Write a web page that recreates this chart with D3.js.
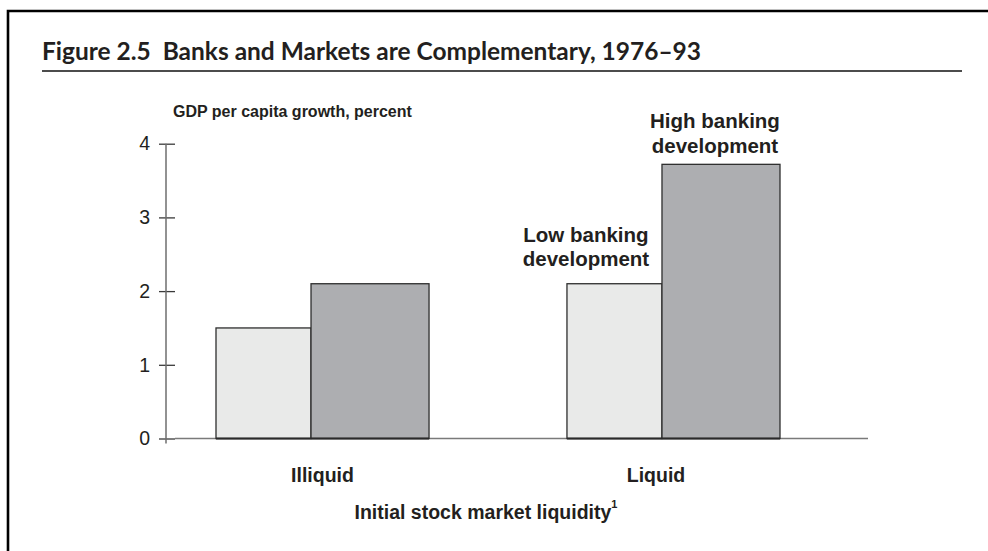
<!DOCTYPE html>
<html><head><meta charset="utf-8">
<script src="https://cdn.jsdelivr.net/npm/d3@7"></script>
<style>body{margin:0;background:#fff}</style>
</head><body>
<svg id="chart" width="988" height="551"></svg>
<script>
// ---- data ----
const categories = ["Illiquid", "Liquid"];
const seriesNames = ["Low banking development", "High banking development"];
const lowBanking = [1.5, 2.1];
const highBanking = [2.1, 3.72];
const yTicks = [0, 1, 2, 3, 4];
const titleText = "Figure 2.5  Banks and Markets are Complementary, 1976\u201393";
const yAxisTitle = "GDP per capita growth, percent";
const xAxisTitle = "Initial stock market liquidity";
const xAxisNote = "1";
const lowLabel = ["Low banking", "development"];
const highLabel = ["High banking", "development"];

// ---- layout ----
const svg = d3.select("#chart");
const ink = "#231f20";
const arial = "'Liberation Sans', Arial, Helvetica, sans-serif";

// frame
svg.append("path")
  .attr("d", "M8,551 V11 H988")
  .attr("fill", "none").attr("stroke", "#000").attr("stroke-width", 2.6);

// title
svg.append("text")
  .attr("x", 42).attr("y", 60)
  .attr("textLength", 659).attr("lengthAdjust", "spacingAndGlyphs")
  .style("white-space", "pre")
  .style("font-family", "Lato, 'Open Sans', sans-serif")
  .style("font-weight", 700).style("font-size", "24.5px")
  .attr("fill", ink)
  .text(titleText);
svg.append("line")
  .attr("x1", 42).attr("x2", 962).attr("y1", 71).attr("y2", 71)
  .attr("stroke", "#111").attr("stroke-width", 1.5);

// scales
const y = d3.scaleLinear().domain([0, 4]).range([438.5, 143.7]);
const x0 = d3.scaleBand().domain(categories).range([216, 780])
  .paddingInner(0.393).paddingOuter(0);
const lowFrac = 0.446;
const labelX = d3.scalePoint().domain(categories).range([322.5, 656]);

// y axis
const axisX = 166;
const yAxis = d3.axisLeft(y).tickValues(yTicks).tickFormat(d3.format("d"))
  .tickSizeInner(7).tickSizeOuter(0).tickPadding(9);
const gy = svg.append("g").attr("transform", `translate(${axisX},0)`).call(yAxis);
gy.select(".domain").remove();
gy.selectAll(".tick line").attr("x1", 9).attr("stroke", "#3a3a3a").attr("stroke-width", 1.3);
gy.selectAll(".tick text")
  .style("font-family", arial).style("font-size", "19.5px").attr("fill", ink);
svg.append("line")
  .attr("x1", axisX).attr("x2", axisX)
  .attr("y1", y(4)).attr("y2", y(0) + 5)
  .attr("stroke", "#6e6e6e").attr("stroke-width", 1.5);

// x baseline
svg.append("line")
  .attr("x1", axisX + 9).attr("x2", 868)
  .attr("y1", y(0)).attr("y2", y(0))
  .attr("stroke", "#7a7a7a").attr("stroke-width", 1.6);

// bars
const bw = x0.bandwidth();
const rows = categories.map((c, i) => ({ c, low: lowBanking[i], high: highBanking[i] }));
const g = svg.append("g");
rows.forEach(r => {
  const lx = x0(r.c), lw = bw * lowFrac;
  g.append("rect")
    .attr("x", lx).attr("y", y(r.low))
    .attr("width", lw).attr("height", y(0) - y(r.low))
    .attr("fill", "#e9eae9").attr("stroke", "#2e2e2e").attr("stroke-width", 1.3);
  g.append("rect")
    .attr("x", lx + lw).attr("y", y(r.high))
    .attr("width", bw - lw).attr("height", y(0) - y(r.high))
    .attr("fill", "#adaeb1").attr("stroke", "#2e2e2e").attr("stroke-width", 1.3);
  g.append("line")
    .attr("x1", lx).attr("x2", lx + bw).attr("y1", y(0)).attr("y2", y(0))
    .attr("stroke", "#2a2a2a").attr("stroke-width", 2);
});

// y axis title
svg.append("text")
  .attr("x", 173).attr("y", 117)
  .style("font-family", arial).style("font-weight", 700).style("font-size", "16px")
  .attr("fill", ink).text(yAxisTitle);

// series labels (over the Liquid group)
const liq = categories[1];
const liqLowX = x0(liq), liqHighX = x0(liq) + bw * lowFrac;
const lowCx = liqLowX + 19;
const highCx = liqHighX + (bw * (1 - lowFrac)) / 2 - 6;
lowLabel.forEach((t, i) => {
  svg.append("text")
    .attr("x", lowCx).attr("y", y(lowBanking[1]) - 42 + i * 24)
    .attr("text-anchor", "middle")
    .style("font-family", arial).style("font-weight", 700).style("font-size", "20.5px")
    .attr("fill", ink).text(t);
});
highLabel.forEach((t, i) => {
  svg.append("text")
    .attr("x", highCx).attr("y", y(highBanking[1]) - 36 + i * 24.5)
    .attr("text-anchor", "middle")
    .style("font-family", arial).style("font-weight", 700).style("font-size", "20.5px")
    .attr("fill", ink).text(t);
});

// category labels
categories.forEach(c => {
  svg.append("text")
    .attr("x", labelX(c)).attr("y", 482)
    .attr("text-anchor", "middle")
    .style("font-family", arial).style("font-weight", 700).style("font-size", "19.5px")
    .attr("fill", ink).text(c);
});

// x axis title
const xt = svg.append("text")
  .attr("x", 486).attr("y", 519)
  .attr("text-anchor", "middle")
  .style("font-family", arial).style("font-weight", 700).style("font-size", "19.5px")
  .attr("fill", ink);
xt.append("tspan").text(xAxisTitle);
xt.append("tspan").attr("dy", -11).style("font-size", "11px").text(xAxisNote);
</script>
</body></html>
